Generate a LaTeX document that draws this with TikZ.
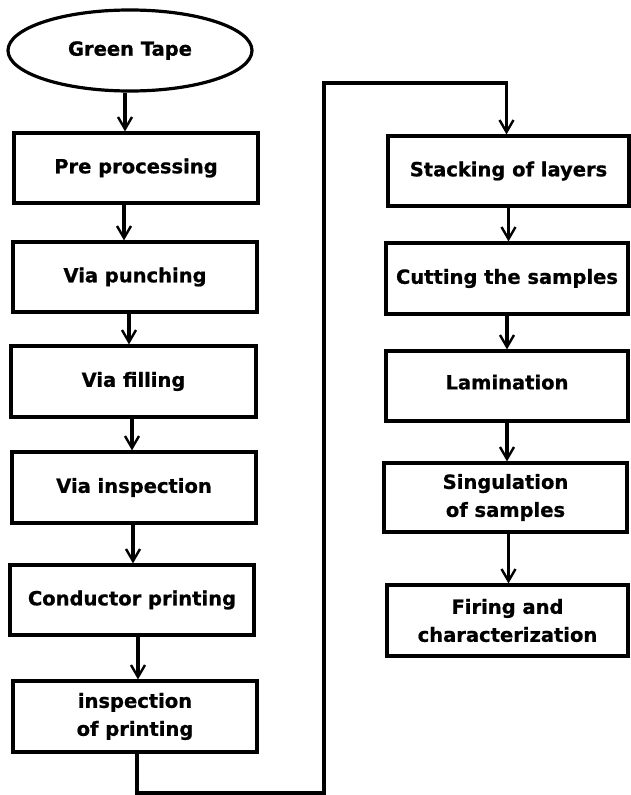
\documentclass[tikz,border=0pt]{standalone}
\usepackage{fontspec}
\setmainfont{DejaVu Sans}[BoldFeatures={FakeBold=0.8}]
\usetikzlibrary{arrows.meta,shapes.geometric}
\begin{document}
\begin{tikzpicture}[x=1pt,y=-1pt,
  box/.style={draw,line width=3.2pt,rectangle,inner sep=2pt,align=center,
    font=\fontsize{19.5}{28}\selectfont\bfseries},
  oval/.style={draw,line width=3.2pt,ellipse,inner sep=0pt,
    font=\fontsize{19.5}{28}\selectfont\bfseries},
  arr/.style={line width=3.2pt,line join=miter,-{Straight Barb[length=12pt,width=14pt,line width=2.4pt]}}]
\useasboundingbox[fill=white] (0,0) rectangle (630,795);
% left column
\node[oval,minimum width=244,minimum height=81] (tape) at (130,50.5) {Green Tape};
\node[box,minimum width=244,minimum height=70] (pre) at (136,168) {Pre processing};
\node[box,minimum width=244,minimum height=70] (punch) at (135,277) {Via punching};
\node[box,minimum width=245,minimum height=71] (fill) at (133.5,381.5) {\raisebox{4pt}{Via filling}};
\node[box,minimum width=244,minimum height=71] (vinsp) at (134,487.5) {Via inspection};
\node[box,minimum width=244,minimum height=70] (cond) at (132,600) {Conductor printing};
\node[box,minimum width=244,minimum height=71] (iprint) at (135,716.5) {inspection\\of printing};
% right column
\node[box,minimum width=241,minimum height=70] (stack) at (508.5,171) {Stacking of layers};
\node[box,minimum width=242,minimum height=71] (cut) at (507,278.5) {Cutting the samples};
\node[box,minimum width=242,minimum height=70] (lam) at (507,386) {\raisebox{8pt}{Lamination}};
\node[box,minimum width=243,minimum height=69] (sing) at (505.5,497.5) {Singulation\\of samples};
\node[box,minimum width=241,minimum height=71] (fire) at (507.5,620.5) {Firing and\\characterization};
% connectors
\draw[arr] ([xshift=-5pt]tape.south) -- ([xshift=-5pt]tape.south |- pre.north);
\draw[arr] ([xshift=-12pt]pre.south) -- ([xshift=-12pt]pre.south |- punch.north);
\draw[arr] ([xshift=-6pt]punch.south) -- ([xshift=-6pt]punch.south |- fill.north);
\draw[arr] ([xshift=-1.5pt]fill.south) -- ([xshift=-1.5pt]fill.south |- vinsp.north);
\draw[arr] ([xshift=-1pt]vinsp.south) -- ([xshift=-1pt]vinsp.south |- cond.north);
\draw[arr] ([xshift=6pt]cond.south) -- ([xshift=6pt]cond.south |- iprint.north);
\coordinate (b1) at (324,793);
\coordinate (t1) at (324,83);
\draw[arr] ([xshift=2pt]iprint.south) |- (b1) -- (t1) -| ([xshift=-2pt]stack.north);
\draw[arr] (stack.south) -- (stack.south |- cut.north);
\draw[arr] (cut.south) -- (cut.south |- lam.north);
\draw[arr] (lam.south) -- (lam.south |- sing.north);
\draw[arr] ([xshift=3pt]sing.south) -- ([xshift=3pt]sing.south |- fire.north);
\end{tikzpicture}
\end{document}
